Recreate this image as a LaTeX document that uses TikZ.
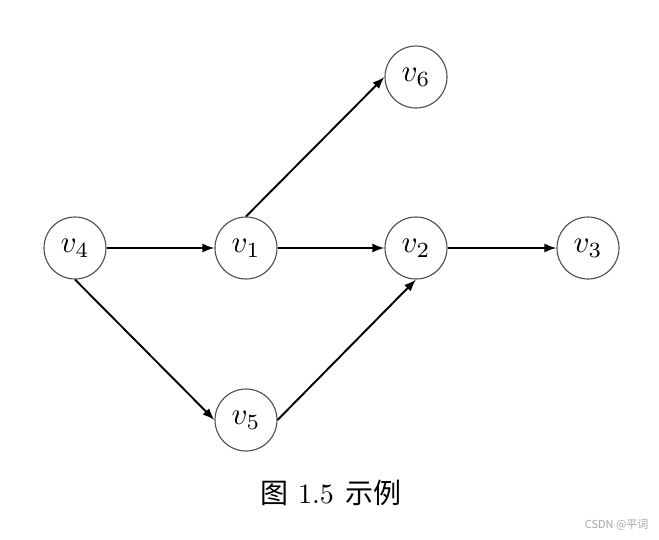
\documentclass[tikz,border=0pt]{standalone}
\usepackage{fontspec}
\newfontfamily\cjk{Noto Sans CJK SC}
\usetikzlibrary{arrows.meta}
\newcommand{\vlab}[1]{\scalebox{3.1}{$v_{#1}$}}
\begin{document}
\begin{tikzpicture}[x=1pt,y=-1pt,
  vtx/.style={circle,draw=black!70,line width=1.1pt,minimum size=62pt,inner sep=0pt,font=\fontsize{10}{12}\selectfont},
  edge/.style={-{Latex[length=12pt,width=9pt]},line width=1.9pt,black}]
\useasboundingbox (0,0) rectangle (659,539);
\node[vtx] (v4) at (75,248) {\vlab{4}};
\node[vtx] (v1) at (246,248) {\vlab{1}};
\node[vtx] (v2) at (416,248) {\vlab{2}};
\node[vtx] (v3) at (588,248) {\vlab{3}};
\node[vtx] (v6) at (416,77) {\vlab{6}};
\node[vtx] (v5) at (246,420) {\vlab{5}};
\draw[edge] (v4) -- (v1);
\draw[edge] (v1) -- (v2);
\draw[edge] (v2) -- (v3);
\draw[edge] (v1.north) -- (v6.west);
\draw[edge] (v4.south) -- (v5.west);
\draw[edge] (v5.east) -- (v2.south);
\node[font=\fontsize{10}{12}\selectfont] (cap) at (331,493) {\scalebox{2.8}{{\cjk 图} 1.5\hspace{4pt}{\cjk 示例}}};
\node[font=\fontsize{11}{13}\selectfont\cjk,text=black!35,anchor=east] (wm) at (652,525) {CSDN @平词};
\end{tikzpicture}
\end{document}
